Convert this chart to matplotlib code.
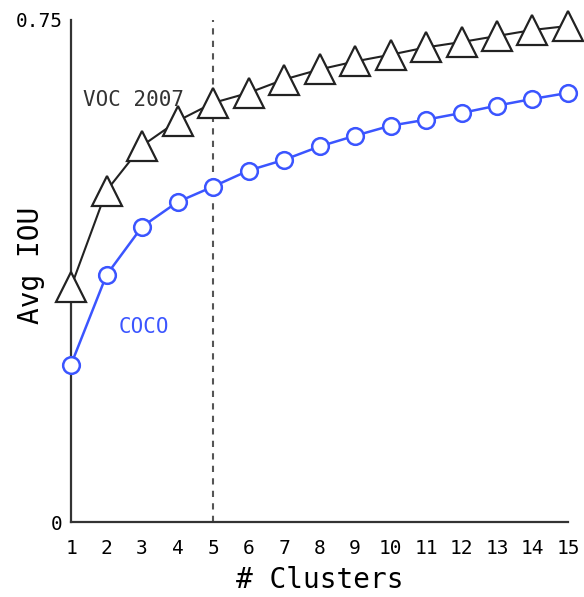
import matplotlib.pyplot as plt

plt.rcParams['font.family'] = 'DejaVu Sans Mono'

clusters = list(range(1, 16))
voc = [0.351, 0.495, 0.562, 0.599, 0.626, 0.641, 0.661, 0.676, 0.688,
       0.698, 0.709, 0.717, 0.726, 0.735, 0.741]
coco = [0.235, 0.369, 0.441, 0.478, 0.501, 0.525, 0.541, 0.561, 0.577,
        0.592, 0.601, 0.611, 0.622, 0.632, 0.641]

fig = plt.figure(figsize=(5.84, 5.97), dpi=100)
ax = fig.add_axes([0.1216, 0.1256, 0.851, 0.841])

ax.axvline(5, color='#555555', linestyle=(0, (3, 3)), linewidth=1.5, zorder=1)

ax.plot(clusters, voc, color='#222222', linewidth=1.5, marker='^', markersize=22,
        markerfacecolor='white', markeredgecolor='#222222', markeredgewidth=1.6,
        clip_on=False, zorder=3)
ax.plot(clusters, coco, color='#3b55ff', linewidth=1.8, marker='o', markersize=12,
        markerfacecolor='white', markeredgecolor='#3b55ff', markeredgewidth=1.8,
        clip_on=False, zorder=3)

ax.text(1.35, 0.631, 'VOC 2007', fontsize=15, color='#333333', va='center')
ax.text(2.35, 0.291, 'COCO', fontsize=15, color='#3b55ff', va='center')

ax.set_xlim(1, 15)
ax.set_ylim(0, 0.75)
ax.set_xticks(clusters)
ax.set_yticks([0, 0.75])
ax.set_yticklabels(['0', '0.75'])
ax.tick_params(length=0, labelsize=14)
ax.tick_params(axis='x', pad=12)
ax.tick_params(axis='y', pad=6)
for s in ['top', 'right']:
    ax.spines[s].set_visible(False)
for s in ['left', 'bottom']:
    ax.spines[s].set_linewidth(1.6)
    ax.spines[s].set_color('#333333')

ax.set_xlabel('# Clusters', fontsize=20)
ax.set_ylabel('Avg IOU', fontsize=20)
ax.xaxis.set_label_coords(0.5, -0.088)
ax.yaxis.set_label_coords(-0.052, 0.512)

fig.savefig('out.png', dpi=100)
